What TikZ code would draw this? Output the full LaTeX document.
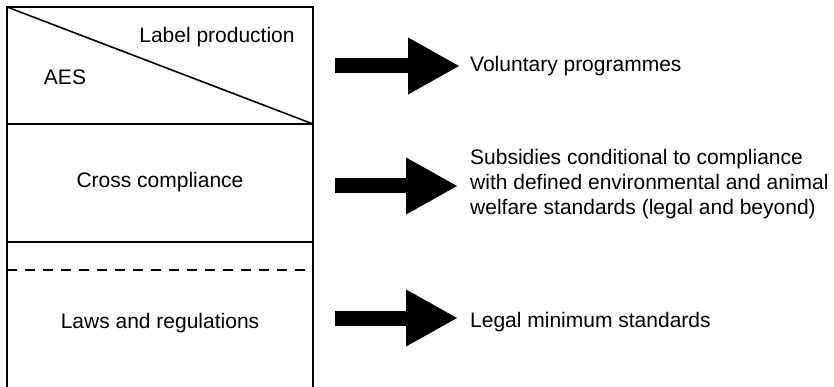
\documentclass[tikz,border=0pt]{standalone}
\usepackage{fontspec}
\setmainfont{Liberation Sans}
\usetikzlibrary{arrows.meta}
\begin{document}
\begin{tikzpicture}[x=1pt,y=-1pt,
  layer/.style={draw, line width=1.6pt, minimum width=306pt, anchor=north west,
    inner sep=0pt, outer sep=0pt},
  lbl/.style={font=\fontsize{21}{25}\selectfont, inner sep=0pt, anchor=base},
  note/.style={lbl, anchor=base west, align=left},
  bigarrow/.style={line width=15pt, -{Triangle[length=52pt,width=53pt]}}]
\useasboundingbox (0,0) rectangle (834,387);
\clip (0,0) rectangle (834,387);

% the three stacked layers
\node[layer, minimum height=117pt] (sec1) at (7,7) {};
\node[layer, minimum height=118pt] (sec2) at (7,124) {};
\node[layer, minimum height=160pt] (sec3) at (7,242) {};

% diagonal split of the top layer and dashed split of the bottom one
\draw[line width=1.6pt] (sec1.north west) -- (sec1.south east);
\draw[line width=1.4pt, dash pattern=on 10pt off 8pt] (7,270) -- (313,270);

% layer labels
\node[lbl] (label) at (217,43) {Label production};
\node[lbl] (aes) at (65,85) {AES};
\node[lbl] (cross) at (160,188) {Cross compliance};
\node[lbl] (laws) at (160,328) {Laws and regulations};

% descriptions
\node[note] (vol) at (470,72) {Voluntary programmes};
\node[note, anchor=north west] (subs) at (470,149.5)
  {Subsidies conditional to compliance\\with defined environmental and animal\\welfare standards (legal and beyond)};
\node[note] (legal) at (470,327) {Legal minimum standards};

% arrows
\coordinate (a1s) at (335,66);  \coordinate (a1e) at (460,66);
\coordinate (a2s) at (335,186); \coordinate (a2e) at (458,186);
\coordinate (a3s) at (335,318); \coordinate (a3e) at (458,318);
\draw[bigarrow] (a1s) -- (a1e);
\draw[bigarrow] (a2s) -- (a2e);
\draw[bigarrow] (a3s) -- (a3e);
\end{tikzpicture}
\end{document}
